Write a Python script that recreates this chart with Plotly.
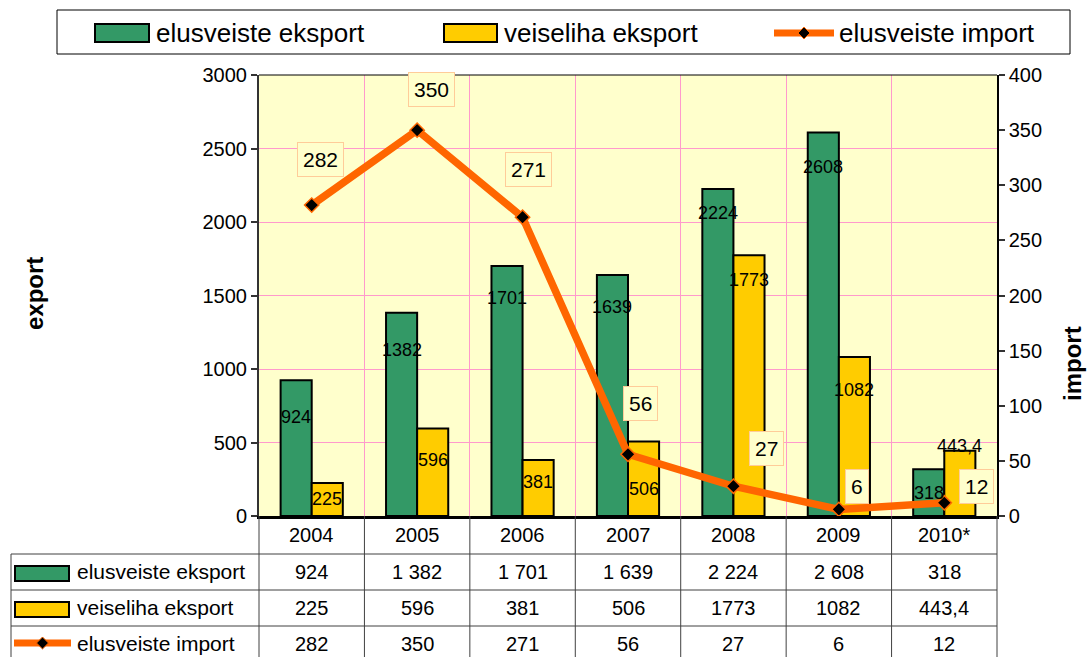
import plotly.graph_objects as go

# ---------------- data ----------------
categories = ["2004", "2005", "2006", "2007", "2008", "2009", "2010*"]
elus_eksport = [924, 1382, 1701, 1639, 2224, 2608, 318]
veis_eksport = [225, 596, 381, 506, 1773, 1082, 443.4]
elus_import = [282, 350, 271, 56, 27, 6, 12]

elus_eksport_lbl = ["924", "1382", "1701", "1639", "2224", "2608", "318"]
veis_eksport_lbl = ["225", "596", "381", "506", "1773", "1082", "443,4"]
elus_import_lbl = ["282", "350", "271", "56", "27", "6", "12"]

elus_eksport_tbl = ["924", "1 382", "1 701", "1 639", "2 224", "2 608", "318"]
veis_eksport_tbl = ["225", "596", "381", "506", "1773", "1082", "443,4"]
elus_import_tbl = ["282", "350", "271", "56", "27", "6", "12"]

series_names = ["elusveiste eksport", "veiseliha eksport", "elusveiste import"]
left_title = "export"
right_title = "import"

# ---------------- style ----------------
GREEN = "#339966"
YELLOW = "#FFCC00"
ORANGE = "#FF6600"
BG = "#FFFFCC"
GRID = "#FF99CC"
FONT = "Arial, Liberation Sans, sans-serif"

W, H = 1087, 657
L, R, T, B = 259, 997, 75, 516   # plot area pixel box
PW, PH = R - L, B - T

def px(x):
    return (x - L) / PW

def py(y):
    return (B - y) / PH

# label offsets (pixels) -- styling only
green_lbl_dy = [37, 37, 32, 32, 24, 34, 24]
yellow_lbl_dy = [16, 32, 22, 47, 25, 33, -5]
line_lbl_dx = [9, 14, 6, 12, 33, 18, 32]
line_lbl_dy = [-46, -41, -48, -51, -38, -23, -16]

fig = go.Figure()
fig.add_trace(go.Bar(x=categories, y=elus_eksport, name=series_names[0],
                     marker=dict(color=GREEN, line=dict(color="black", width=2)),
                     yaxis="y"))
fig.add_trace(go.Bar(x=categories, y=veis_eksport, name=series_names[1],
                     marker=dict(color=YELLOW, line=dict(color="black", width=2)),
                     yaxis="y"))
fig.add_trace(go.Scatter(x=categories, y=elus_import, name=series_names[2],
                         mode="lines+markers", yaxis="y2",
                         line=dict(color=ORANGE, width=7.5),
                         marker=dict(symbol="diamond", size=11, color="black",
                                     line=dict(color=ORANGE, width=1.5))))

cat_w = PW / len(categories)
bar_off = 0.59 * cat_w / 4  # half of single bar width

ann = []
def text_ann(x, y, text, size, xref="paper", yref="paper", xanchor="center", **kw):
    d = dict(x=x, y=y, xref=xref, yref=yref, text=text, showarrow=False,
             xanchor=xanchor, yanchor="middle",
             font=dict(size=size, family=FONT, color="black"))
    d.update(kw)
    return d

for i, c in enumerate(categories):
    ann.append(text_ann(i, elus_eksport[i], elus_eksport_lbl[i], 18, xref="x", yref="y",
                        xshift=-bar_off, yshift=-green_lbl_dy[i]))
    ann.append(text_ann(i, veis_eksport[i], veis_eksport_lbl[i], 18, xref="x", yref="y",
                        xshift=bar_off, yshift=-yellow_lbl_dy[i]))
    ann.append(text_ann(i, elus_import[i], elus_import_lbl[i], 21, xref="x", yref="y2",
                        xshift=line_lbl_dx[i], yshift=-line_lbl_dy[i],
                        bgcolor=BG, bordercolor="#FFCC99", borderwidth=1, borderpad=5))

# axis titles
ann.append(text_ann(px(34), py(294), "<b>%s</b>" % left_title, 24, textangle=-90))
ann.append(text_ann(px(1072), py(364), "<b>%s</b>" % right_title, 24, textangle=-90))

shapes = []
# top border of plot
shapes.append(dict(type="line", xref="paper", yref="paper", x0=0, x1=1, y0=1, y1=1,
                   line=dict(color="black", width=1)))

# ---------------- data table ----------------
TL = 11
row_lines = [554, 590, 626]
row_centers = [572, 608, 644]
tcol = "#404040"
for yl in row_lines:
    shapes.append(dict(type="line", xref="paper", yref="paper", x0=px(TL), x1=px(R),
                       y0=py(yl), y1=py(yl), line=dict(color=tcol, width=1)))
shapes.append(dict(type="line", xref="paper", yref="paper", x0=px(TL), x1=px(TL),
                   y0=py(554), y1=py(H + 5), line=dict(color=tcol, width=1)))
for k in range(len(categories) + 1):
    xb = L + k * cat_w
    shapes.append(dict(type="line", xref="paper", yref="paper", x0=px(xb), x1=px(xb),
                       y0=py(B), y1=py(H + 5), line=dict(color=tcol, width=1)))

for i, c in enumerate(categories):
    xc = L + (i + 0.5) * cat_w
    ann.append(text_ann(px(xc), py(535), c, 20))
    for r, vals in enumerate([elus_eksport_tbl, veis_eksport_tbl, elus_import_tbl]):
        ann.append(text_ann(px(xc), py(row_centers[r]), vals[i], 20))

# table legend keys
def rect(x0, y0, x1, y1, fill, lw=2, lc="black"):
    return dict(type="rect", xref="paper", yref="paper", x0=px(x0), x1=px(x1),
                y0=py(y1), y1=py(y0), fillcolor=fill, line=dict(color=lc, width=lw))

def diamond(xc, yc, r):
    pts = [(xc, yc - r), (xc + r, yc), (xc, yc + r), (xc - r, yc)]
    d = "M " + " L ".join("%f,%f" % (px(a), py(b)) for a, b in pts) + " Z"
    return dict(type="path", xref="paper", yref="paper", path=d, fillcolor="black",
                line=dict(color=ORANGE, width=1))

def line_key(x0, x1, yc):
    return [dict(type="line", xref="paper", yref="paper", x0=px(x0), x1=px(x1),
                 y0=py(yc), y1=py(yc), line=dict(color=ORANGE, width=7)),
            diamond((x0 + x1) / 2, yc, 6)]

shapes.append(rect(15, 566, 69, 581, GREEN))
shapes.append(rect(15, 602, 69, 617, YELLOW))
shapes += line_key(14, 71, 643)
for r, name in enumerate(series_names):
    ann.append(text_ann(px(75), py(row_centers[r] - 1), name, 21, xanchor="left"))

# ---------------- top legend ----------------
shapes.append(rect(57, 10, 1070, 54, "white", lw=1))
shapes.append(rect(95, 24, 149, 42, GREEN))
shapes.append(rect(444, 24, 497, 42, YELLOW))
shapes += line_key(774, 834, 33)
for xl, name in zip([154, 502, 837], series_names):
    ann.append(text_ann(px(xl), py(33), name, 26, xanchor="left"))

fig.update_layout(
    width=W, height=H,
    margin=dict(l=L, r=W - R, t=T, b=H - B, pad=0),
    paper_bgcolor="white", plot_bgcolor=BG,
    showlegend=False,
    barmode="group", bargap=0.41, bargroupgap=0,
    font=dict(family=FONT, color="black"),
    xaxis=dict(type="category", categoryarray=categories, range=[-0.5, len(categories) - 0.5],
               showticklabels=False, ticks="", tickson="boundaries",
               showgrid=True, gridcolor=GRID, gridwidth=1,
               showline=True, linecolor="black", linewidth=2.5),
    yaxis=dict(range=[0, 3000], dtick=500, showgrid=True, gridcolor=GRID, gridwidth=1,
               zeroline=False, showline=True, linecolor="#333333", linewidth=2,
               ticks="outside", ticklen=6, tickcolor="#333333", tickwidth=1.5,
               tickfont=dict(size=20, family=FONT, color="black")),
    yaxis2=dict(range=[0, 400], dtick=50, overlaying="y", side="right", showgrid=False,
                zeroline=False, showline=True, linecolor="black", linewidth=1.5,
                ticks="outside", ticklen=6, tickcolor="#333333", tickwidth=1.5,
                tickfont=dict(size=20, family=FONT, color="black")),
    annotations=ann,
    shapes=shapes,
)

fig.write_html("out.html", config={"displayModeBar": False},
               post_script="document.body.style.margin='0';document.body.style.overflow='hidden';")
